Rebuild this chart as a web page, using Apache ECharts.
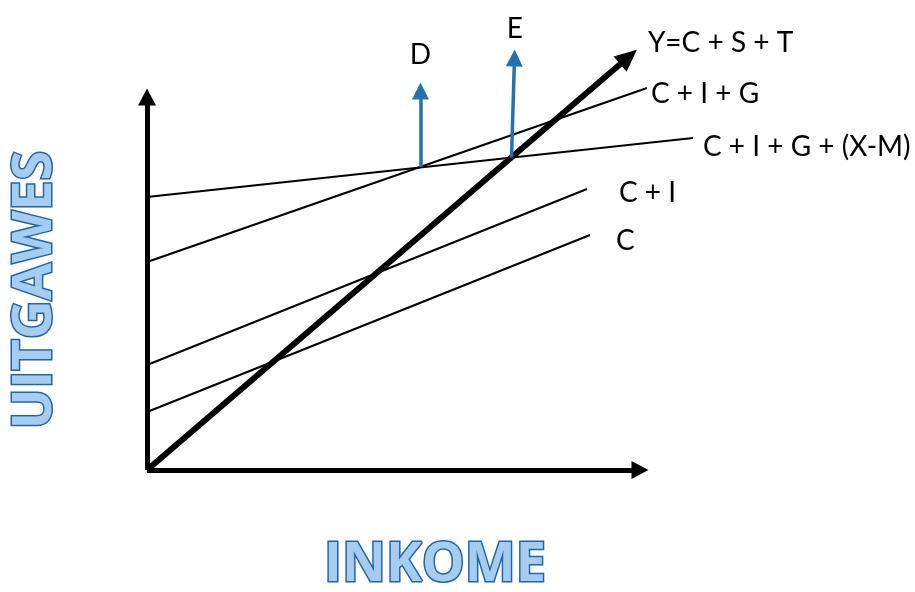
<!DOCTYPE html>
<html>
<head>
<meta charset="utf-8">
<script src="https://cdn.jsdelivr.net/npm/echarts@6/dist/echarts.min.js"></script>
<style>
  html, body { margin: 0; padding: 0; background: #fff; }
  #chart { width: 915px; height: 592px; }
</style>
</head>
<body>
<div id="chart"></div>
<script>
// coordinates in chart units (income, spending); arrow ends sit at the arrowhead centre
const xAxisLine = [[0, 0], [98.6, 0]]
const yAxisLine = [[0, 0], [0, 74.6]]
const lineY = [[0, 0], [96.3, 82.6]]
const lineCIG = [[0, 41.6], [100, 76.4]]
const lineCIGXM = [[0, 54.6], [109.2, 66.4]]
const lineCI = [[0, 21], [88, 56.2]]
const lineC = [[0, 11.6], [88.6, 47]]
const arrowD = [[54.7, 60.6], [54.7, 75.8]]
const arrowE = [[72.9, 62.5], [73.5, 82.4]]

const labelFont = 'Lato'
const labelSize = 28

const chart = echarts.init(document.getElementById('chart'))

// plain line with a label at its end
const plainLine = (name, pts, offset) => ({
  name,
  type: 'line',
  data: pts,
  symbol: 'none',
  silent: true,
  lineStyle: { color: '#000', width: 2 },
  endLabel: {
    show: true,
    formatter: name,
    distance: 0,
    offset,
    color: '#000',
    fontSize: labelSize,
    fontFamily: labelFont
  }
})

// segment with a triangle head, drawn as a markLine
const arrowLine = (name, pts, width, color, size, label) => ({
  name,
  type: 'line',
  data: [],
  markLine: {
    silent: true,
    symbol: ['none', 'triangle'],
    symbolSize: size,
    animation: false,
    lineStyle: { color, width, type: 'solid', opacity: 1 },
    label: label
      ? Object.assign({ show: true, formatter: name, color: '#000', fontSize: labelSize, fontFamily: labelFont }, label)
      : { show: false },
    data: [[{ coord: pts[0] }, { coord: pts[1] }]]
  }
})

const titleStyle = (text) => ({
  text,
  font: 'bold 54px "Open Sans"',
  fill: '#a6cdef',
  stroke: '#1f66a6',
  lineWidth: 3,
  align: 'center',
  verticalAlign: 'middle',
  textAlign: 'center',
  textVerticalAlign: 'middle'
})

chart.setOption({
  animation: false,
  grid: { left: 147, right: 218, top: 20, bottom: 122 },
  xAxis: { type: 'value', min: 0, max: 110, show: false },
  yAxis: { type: 'value', min: 0, max: 90, show: false },
  series: [
    plainLine('C + I + G', lineCIG, [4, 6]),
    plainLine('C + I + G + (X-M)', lineCIGXM, [10, 9]),
    plainLine('C + I', lineCI, [32, 4]),
    plainLine('C', lineC, [26, 6]),
    arrowLine('x-as', xAxisLine, 5, '#000', [18, 17], null),
    arrowLine('y-as', yAxisLine, 5, '#000', [18, 17], null),
    arrowLine('Y=C + S + T', lineY, 6, '#000', [20, 22], { position: 'end', distance: 4, offset: [89, -11] }),
    arrowLine('D', arrowD, 3.5, '#2471ad', [17, 17], { position: 'end', distance: 22 }),
    arrowLine('E', arrowE, 3.5, '#2471ad', [17, 17], { position: 'end', distance: 15 })
  ],
  graphic: [
    {
      type: 'text',
      x: 36,
      y: 290,
      rotation: Math.PI / 2,
      silent: true,
      style: titleStyle('UITGAWES')
    },
    {
      type: 'text',
      x: 435,
      y: 566,
      silent: true,
      style: titleStyle('INKOME')
    }
  ]
})

window.addEventListener('resize', () => chart.resize())
</script>
</body>
</html>
